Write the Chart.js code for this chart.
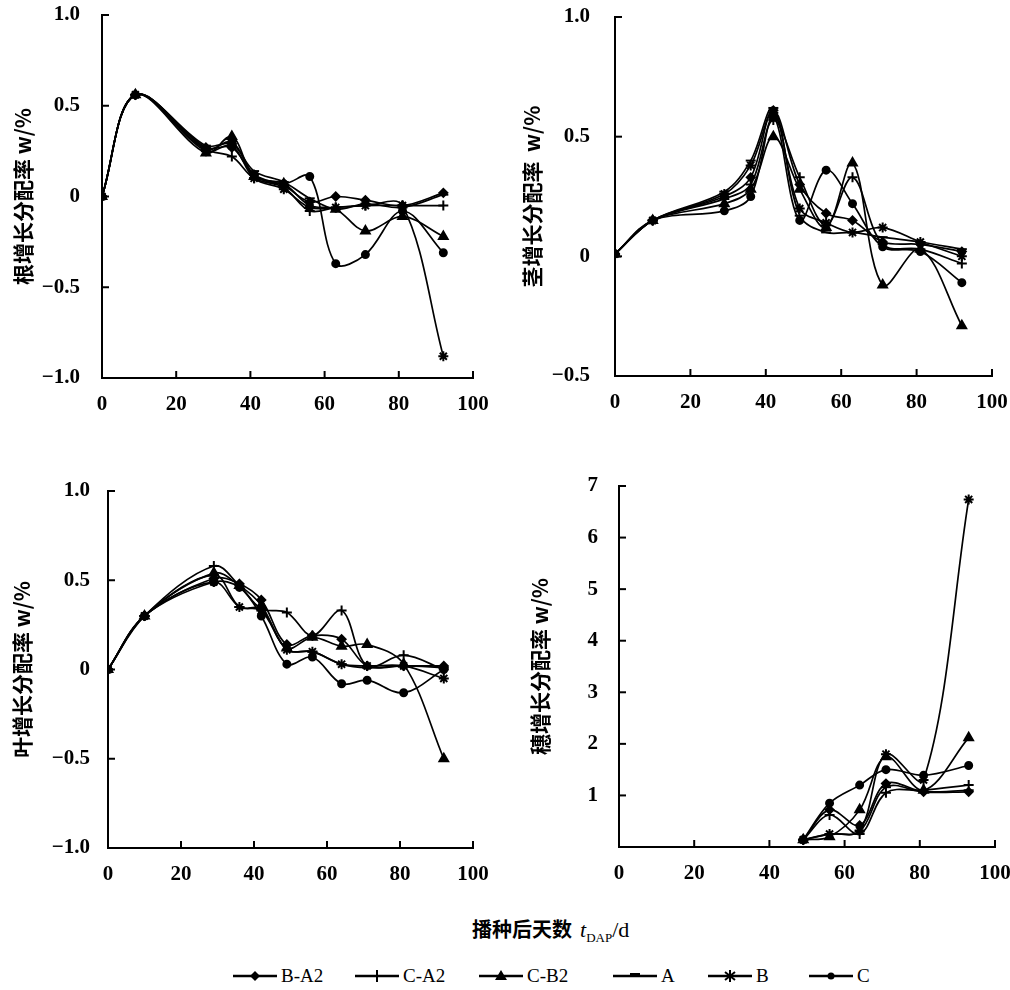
<!DOCTYPE html>
<html><head><meta charset="utf-8">
<script src="https://cdn.jsdelivr.net/npm/chart.js@4.4.1/dist/chart.umd.min.js"></script>
<style>
body{margin:0;background:#fff;width:1010px;height:990px;position:relative;overflow:hidden;}
canvas{position:absolute;}
#xtitle{position:absolute;left:472px;top:914px;font-family:"Noto Sans CJK SC";font-weight:bold;font-size:20px;color:#000;white-space:nowrap;}
#xtitle i{font-family:"Liberation Serif";font-size:22px;font-weight:normal;margin-left:8px;}
#xtitle sub{font-family:"Liberation Serif";font-size:13px;font-weight:normal;}
#xtitle .d{font-family:"Liberation Serif";font-size:22px;font-weight:normal;}
.lg{position:absolute;top:966px;height:20px;display:flex;align-items:center;font-family:"Liberation Serif";font-size:19px;color:#000;white-space:nowrap;}
.lg svg{margin-right:4px;}
</style></head><body>
<canvas id="c1" width="500" height="420" style="left:0;top:0"></canvas>
<canvas id="c2" width="510" height="420" style="left:500px;top:0"></canvas>
<canvas id="c3" width="500" height="420" style="left:0;top:470px"></canvas>
<canvas id="c4" width="520" height="420" style="left:500px;top:470px"></canvas>
<div id="xtitle">播种后天数<i>t</i><sub>DAP</sub><span class="d">/d</span></div>
<div id="legend"></div>
<script>
// ---------- DATA ----------
const seriesNames = ['B-A2','C-A2','C-B2','A','B','C'];

// Root (根)
const daysRoot = [0, 9, 28, 35, 41, 49, 56, 63, 71, 81, 92];
const rootBA2 = [0, 0.56, 0.27, 0.27, 0.12, 0.06, -0.03, 0.00, -0.02, -0.05, 0.02];
const rootCA2 = [0, 0.56, 0.26, 0.22, 0.10, 0.05, -0.08, -0.06, -0.05, -0.05, -0.05];
const rootCB2 = [0, 0.56, 0.24, 0.33, 0.11, 0.07, -0.05, -0.07, -0.19, -0.11, -0.22];
const rootA   = [0, 0.56, 0.28, 0.29, 0.14, 0.08, -0.01, -0.07, -0.04, -0.06, 0.01];
const rootB   = [0, 0.56, 0.25, 0.28, 0.10, 0.04, -0.06, -0.06, -0.05, -0.05, -0.88];
const rootC   = [0, 0.56, 0.26, 0.30, 0.12, 0.07, 0.11, -0.37, -0.32, -0.08, -0.31];

// Stem (茎)
const daysStem = [0, 10, 29, 36, 42, 49, 56, 63, 71, 81, 92];
const stemBA2 = [0.01, 0.15, 0.25, 0.33, 0.61, 0.30, 0.18, 0.15, 0.06, 0.05, 0.02];
const stemCA2 = [0.01, 0.15, 0.24, 0.30, 0.57, 0.33, 0.13, 0.33, 0.05, 0.03, -0.03];
const stemCB2 = [0.01, 0.15, 0.22, 0.28, 0.50, 0.28, 0.12, 0.39, -0.12, 0.03, -0.29];
const stemA   = [0.01, 0.15, 0.27, 0.40, 0.62, 0.17, 0.10, 0.10, 0.08, 0.06, 0.03];
const stemB   = [0.01, 0.15, 0.26, 0.38, 0.60, 0.20, 0.14, 0.10, 0.12, 0.06, 0.00];
const stemC   = [0.01, 0.15, 0.19, 0.25, 0.58, 0.15, 0.36, 0.22, 0.04, 0.02, -0.11];

// Leaf (叶)
const daysLeaf = [0, 10, 29, 36, 42, 49, 56, 64, 71, 81, 92];
const leafBA2 = [0, 0.30, 0.51, 0.48, 0.39, 0.14, 0.19, 0.17, 0.02, 0.02, 0.02];
const leafCA2 = [0, 0.30, 0.58, 0.47, 0.34, 0.32, 0.19, 0.33, 0.02, 0.08, 0.00];
const leafCB2 = [0, 0.30, 0.54, 0.47, 0.36, 0.12, 0.18, 0.13, 0.14, 0.03, -0.50];
const leafA   = [0, 0.30, 0.53, 0.35, 0.34, 0.11, 0.10, 0.03, 0.01, 0.02, 0.01];
const leafB   = [0, 0.30, 0.49, 0.35, 0.33, 0.11, 0.10, 0.03, 0.02, 0.02, -0.05];
const leafC   = [0, 0.30, 0.49, 0.46, 0.30, 0.03, 0.07, -0.08, -0.06, -0.13, 0.00];

// Panicle (穗)
const daysPan = [49, 56, 64, 71, 81, 93];
const panBA2 = [0.14, 0.72, 0.42, 1.23, 1.07, 1.07];
const panCA2 = [0.14, 0.62, 0.25, 1.05, 1.10, 1.20];
const panCB2 = [0.14, 0.20, 0.72, 1.75, 1.10, 2.12];
const panA   = [0.14, 0.25, 0.30, 1.16, 1.07, 1.10];
const panB   = [0.14, 0.25, 0.32, 1.80, 1.30, 6.74];
const panC   = [0.14, 0.85, 1.20, 1.50, 1.39, 1.58];

const yTicksAll = {root:[-1,1,0.5], stem:[-0.5,1,0.5], leaf:[-1,1,0.5], pan:[0,7,1]};
const xTicks = [0, 100, 20];

// ---------- STYLE ----------
const markerStyles = [
  {pointStyle:'rectRot', radius:4},
  {pointStyle:'cross', radius:5},
  {pointStyle:'triangle', radius:5},
  {pointStyle:'line', radius:5},
  {pointStyle:'star', radius:5},
  {pointStyle:'circle', radius:3.5}
];
const tickFont = {family:'Liberation Serif', size:21, weight:'bold'};
const titleFont = {family:'Noto Sans CJK SC', size:21, weight:'bold'};

function mk(days, arrs){
  return arrs.map((vals,i)=>({
    label: seriesNames[i],
    data: vals.map((v,j)=>({x:days[j], y:v})),
    borderColor:'#000', backgroundColor:'#000',
    borderWidth:1.7,
    pointStyle: markerStyles[i].pointStyle,
    pointRadius: markerStyles[i].radius,
    pointBorderWidth: 2,
    tension: 0.35, fill:false
  }));
}

const innerTicks = {
  id:'innerTicks',
  afterDraw(chart){
    const ctx = chart.ctx, xs = chart.scales.x, ys = chart.scales.y, a = chart.chartArea;
    ctx.save(); ctx.strokeStyle='#000'; ctx.lineWidth=2;
    xs.ticks.forEach(t=>{ const px = xs.getPixelForValue(t.value); if (Math.abs(px-a.left)<2) return;
      ctx.beginPath(); ctx.moveTo(px, a.bottom); ctx.lineTo(px, a.bottom-7); ctx.stroke(); });
    ys.ticks.forEach(t=>{ const py = ys.getPixelForValue(t.value); if (Math.abs(py-a.bottom)<2) return;
      ctx.beginPath(); ctx.moveTo(a.left, py); ctx.lineTo(a.left+7, py); ctx.stroke(); });
    ctx.restore();
  }
};

function fmtDec(v){ if (Math.abs(v)<1e-9) return '0'; return (v<0?'\u2212':'') + Math.abs(v).toFixed(1); }
function fmtInt(v){ return v===0 ? '' : String(v); }

function makeChart(id, datasets, c){
  return new Chart(document.getElementById(id), {
    type:'line',
    data:{datasets},
    options:{
      responsive:false, animation:false, devicePixelRatio:1,
      layout:{autoPadding:false, padding:{left:0, right:c.padR, top:c.padT, bottom:0}},
      plugins:{legend:{display:false}, tooltip:{enabled:false}},
      scales:{
        x:{type:'linear', min:xTicks[0], max:xTicks[1],
           ticks:{stepSize:xTicks[2], padding:0, font:tickFont, color:'#000', maxRotation:0},
           grid:{display:false, drawTicks:true, tickLength:c.xPad}, border:{color:'#000', width:2},
           afterFit(s){ s.height = c.xH; }},
        y:{type:'linear', min:c.yt[0], max:c.yt[1],
           ticks:{stepSize:c.yt[2], padding:0, font:tickFont, color:'#000', callback:c.fmt},
           grid:{display:false, drawTicks:true, tickLength:c.yPad}, border:{color:'#000', width:2},
           title:{display:true, text:c.title, font:titleFont, color:'#000', padding:{top:c.tPad, bottom:0}},
           afterFit(s){ s.width = c.yW; }}
      }
    },
    plugins:[innerTicks]
  });
}

makeChart('c1', mk(daysRoot,[rootBA2,rootCA2,rootCB2,rootA,rootB,rootC]),
  {padR:27, padT:15, xH:42, yW:102, yPad:22, xPad:14, tPad:10, yt:yTicksAll.root, fmt:fmtDec, title:'根增长分配率 w/%'});
makeChart('c2', mk(daysStem,[stemBA2,stemCA2,stemCB2,stemA,stemB,stemC]),
  {padR:18, padT:17, xH:44, yW:115, yPad:25, xPad:14, tPad:19, yt:yTicksAll.stem, fmt:fmtDec, title:'茎增长分配率  w/%'});
makeChart('c3', mk(daysLeaf,[leafBA2,leafCA2,leafCB2,leafA,leafB,leafC]),
  {padR:27, padT:21, xH:42, yW:108, yPad:18, xPad:14, tPad:9, yt:yTicksAll.leaf, fmt:fmtDec, title:'叶增长分配率 w/%'});
makeChart('c4', mk(daysPan,[panBA2,panCA2,panCB2,panA,panB,panC]),
  {padR:25, padT:16, xH:43, yW:119, yPad:21, xPad:14, tPad:27, yt:yTicksAll.pan, fmt:fmtInt, title:'穗增长分配率 w/%'});

// ---------- LEGEND ----------
const legendLeft = [233, 355, 479, 613, 708, 809];
function markerSvg(i){
  const L = '<line x1="0" y1="8" x2="44" y2="8" stroke="#000" stroke-width="2.5"/>';
  const m = [
    '<polygon points="22,3 27,8 22,13 17,8" fill="#000"/>',
    '<line x1="22" y1="2" x2="22" y2="14" stroke="#000" stroke-width="2"/>',
    '<polygon points="22,2 28,12 16,12" fill="#000"/>',
    '<rect x="17" y="5" width="10" height="4" fill="#000"/>',
    '<line x1="22" y1="2" x2="22" y2="14" stroke="#000" stroke-width="2"/><line x1="17" y1="4" x2="27" y2="12" stroke="#000" stroke-width="2"/><line x1="27" y1="4" x2="17" y2="12" stroke="#000" stroke-width="2"/>',
    '<circle cx="22" cy="8" r="3.5" fill="#000"/>'
  ][i];
  return '<svg width="44" height="16" viewBox="0 0 44 16">' + L + m + '</svg>';
}
const lg = document.getElementById('legend');
seriesNames.forEach((n,i)=>{
  const d = document.createElement('div');
  d.className='lg'; d.style.left = legendLeft[i]+'px';
  d.innerHTML = markerSvg(i) + '<span>' + n + '</span>';
  lg.appendChild(d);
});
</script>
</body></html>
